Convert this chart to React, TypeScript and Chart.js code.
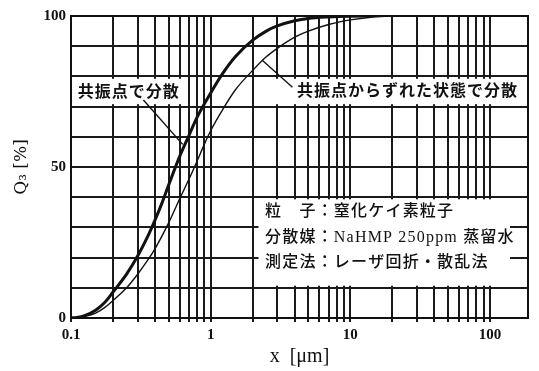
import { useEffect, useRef } from "react";
import { Chart, registerables } from "chart.js";

Chart.register(...registerables);

// Cumulative volume distribution Q3 [%] against particle size x [µm]
const sizeResonant = [0.1, 0.11, 0.125, 0.15, 0.175, 0.2, 0.25, 0.3, 0.35, 0.4, 0.45, 0.5, 0.6, 0.7, 0.8, 1.0, 1.2, 1.5, 2, 2.5, 3, 4, 5, 7, 10, 14];
const q3Resonant = [0, 0.2, 0.8, 2.6, 5.2, 8.6, 14.5, 20.5, 26.5, 32.5, 38.3, 44, 53.5, 60.5, 66.5, 74.5, 80.5, 86.5, 92, 95, 96.7, 98.4, 99.2, 99.7, 99.95, 100];

const sizeOffResonant = [0.1, 0.11, 0.125, 0.15, 0.175, 0.2, 0.25, 0.3, 0.35, 0.4, 0.5, 0.6, 0.7, 0.8, 0.9, 1.0, 1.2, 1.5, 2, 2.5, 3, 4, 5, 7, 10, 14, 20];
const q3OffResonant = [0, 0.1, 0.5, 1.6, 3.5, 5.8, 10, 14.5, 18.8, 23, 31.5, 39.5, 46, 52, 57.5, 62, 68.5, 75.5, 82, 86.5, 89.3, 93, 95, 97.2, 98.7, 99.6, 100];

// Log grid: 1..9 in each decade
const xGridValues = [
  0.1, 0.2, 0.3, 0.4, 0.5, 0.6, 0.7, 0.8, 0.9,
  1, 2, 3, 4, 5, 6, 7, 8, 9,
  10, 20, 30, 40, 50, 60, 70, 80, 90,
  100,
];
const xTickLabels = [0.1, 1, 10, 100];
const yTickLabels = [0, 50, 100];

const curveLabels = ["共振点で分散", "共振点からずれた状態で分散"];
const noteLines = ["粒　子：窒化ケイ素粒子", "分散媒：NaHMP 250ppm 蒸留水", "測定法：レーザ回折・散乱法"];

const X_MIN = 0.1;
const X_MAX = 187;

// Annotation placement in data units (x in µm, y in %)
const labelBoxes = [
  { x0: 0.1, x1: 0.62, y0: 70.8, y1: 79.2 },
  { x0: 2.8, x1: 175, y0: 70.8, y1: 79.2 },
  { x0: 2.2, x1: 139, y0: 10.7, y1: 39.3 },
];
const labelAnchors = [
  { x: 0.112, y: 75.2 },
  { x: 4.15, y: 75.6 },
];
const noteAnchor = { x: 2.45, y: [35.1, 26.5, 18.2] };
const leaders = [
  { x0: 0.33, y0: 72.2, x1: 0.63, y1: 57.5 },
  { x0: 2.33, y0: 85.4, x1: 3.85, y1: 76.4 },
];

const toPoints = (xs: number[], ys: number[]) => xs.map((x, i) => ({ x, y: ys[i] }));

const overlayPlugin = {
  id: "overlay",
  beforeDatasetsDraw(chart: any) {
    const { ctx } = chart;
    const xs = chart.scales.x;
    const ys = chart.scales.y;
    ctx.save();
    ctx.fillStyle = "#ffffff";
    for (const b of labelBoxes) {
      const px0 = Math.max(xs.getPixelForValue(b.x0), chart.chartArea.left + 1);
      const px1 = xs.getPixelForValue(b.x1);
      const py0 = ys.getPixelForValue(b.y1);
      const py1 = ys.getPixelForValue(b.y0);
      ctx.fillRect(px0, py0, px1 - px0, py1 - py0);
    }
    ctx.restore();
  },
  afterDatasetsDraw(chart: any) {
    const { ctx, chartArea } = chart;
    const xs = chart.scales.x;
    const ys = chart.scales.y;
    ctx.save();

    // leader lines from the labels to the curves
    ctx.strokeStyle = "#111";
    ctx.lineWidth = 1.4;
    for (const l of leaders) {
      ctx.beginPath();
      ctx.moveTo(xs.getPixelForValue(l.x0), ys.getPixelForValue(l.y0));
      ctx.lineTo(xs.getPixelForValue(l.x1), ys.getPixelForValue(l.y1));
      ctx.stroke();
    }

    ctx.fillStyle = "#111";
    ctx.textAlign = "left";
    ctx.textBaseline = "middle";
    ctx.letterSpacing = "1px";
    ctx.font = "bold 16px 'Noto Sans CJK JP'";
    curveLabels.forEach((t, i) => {
      const a = labelAnchors[i];
      ctx.fillText(t, xs.getPixelForValue(a.x), ys.getPixelForValue(a.y));
    });

    ctx.letterSpacing = "1.2px";
    ctx.font = "500 16px 'Liberation Serif', 'Noto Sans CJK JP'";
    noteLines.forEach((t, i) => {
      ctx.fillText(t, xs.getPixelForValue(noteAnchor.x), ys.getPixelForValue(noteAnchor.y[i]));
    });
    ctx.letterSpacing = "0px";

    // plot frame
    ctx.strokeStyle = "#111";
    ctx.lineWidth = 2;
    ctx.strokeRect(chartArea.left, chartArea.top, chartArea.right - chartArea.left, chartArea.bottom - chartArea.top);
    ctx.restore();
  },
};

export default function App() {
  const canvasRef = useRef<HTMLCanvasElement | null>(null);

  useEffect(() => {
    const canvas = canvasRef.current;
    if (!canvas) return;
    const chart = new Chart(canvas, {
      type: "line",
      data: {
        datasets: [
          {
            label: curveLabels[0],
            data: toPoints(sizeResonant, q3Resonant),
            borderColor: "#111",
            borderWidth: 3,
            pointRadius: 0,
            cubicInterpolationMode: "monotone",
            fill: false,
          },
          {
            label: curveLabels[1],
            data: toPoints(sizeOffResonant, q3OffResonant),
            borderColor: "#111",
            borderWidth: 1.4,
            pointRadius: 0,
            cubicInterpolationMode: "monotone",
            fill: false,
          },
        ],
      },
      options: {
        responsive: false,
        animation: false,
        events: [],
        layout: { padding: { top: 16, right: 11, left: 0, bottom: 0 } },
        plugins: {
          legend: { display: false },
          tooltip: { enabled: false },
        },
        scales: {
          x: {
            type: "logarithmic",
            min: X_MIN,
            max: X_MAX,
            afterBuildTicks: (axis: any) => {
              axis.ticks = xGridValues.map((v) => ({ value: v }));
            },
            afterFit: (axis: any) => {
              axis.height = 53;
            },
            ticks: {
              autoSkip: false,
              maxRotation: 0,
              padding: 4,
              color: "#111",
              font: { family: "'Liberation Serif'", size: 15, weight: "bold" },
              callback: (v: any) => (xTickLabels.includes(Number(v)) ? String(v) : ""),
            },
            grid: { color: "#1a1a1a", lineWidth: 2, tickLength: 4, drawTicks: true },
            border: { color: "#111", width: 2 },
            title: {
              display: true,
              text: "x  [μm]",
              color: "#111",
              font: { family: "'Liberation Serif'", size: 20 },
              padding: { top: 0, bottom: 2 },
            },
          },
          y: {
            type: "linear",
            min: 0,
            max: 100,
            afterFit: (axis: any) => {
              axis.width = 71;
            },
            ticks: {
              stepSize: 10,
              padding: 5,
              color: "#111",
              font: { family: "'Liberation Serif'", size: 15, weight: "bold" },
              callback: (v: any) => (yTickLabels.includes(Number(v)) ? String(v) : ""),
            },
            grid: { color: "#1a1a1a", lineWidth: 2, drawTicks: false },
            border: { color: "#111", width: 2 },
            title: {
              display: true,
              text: "Q₃ [%]",
              color: "#111",
              font: { family: "'DejaVu Serif'", size: 17 },
              padding: { top: 11, bottom: 0 },
            },
          },
        },
      },
      plugins: [overlayPlugin],
    } as any);
    return () => chart.destroy();
  }, []);

  return (
    <div style={{ position: "fixed", left: 0, top: 0, width: 539, height: 371, background: "#fff" }}>
      <canvas ref={canvasRef} width={539} height={371} />
    </div>
  );
}
